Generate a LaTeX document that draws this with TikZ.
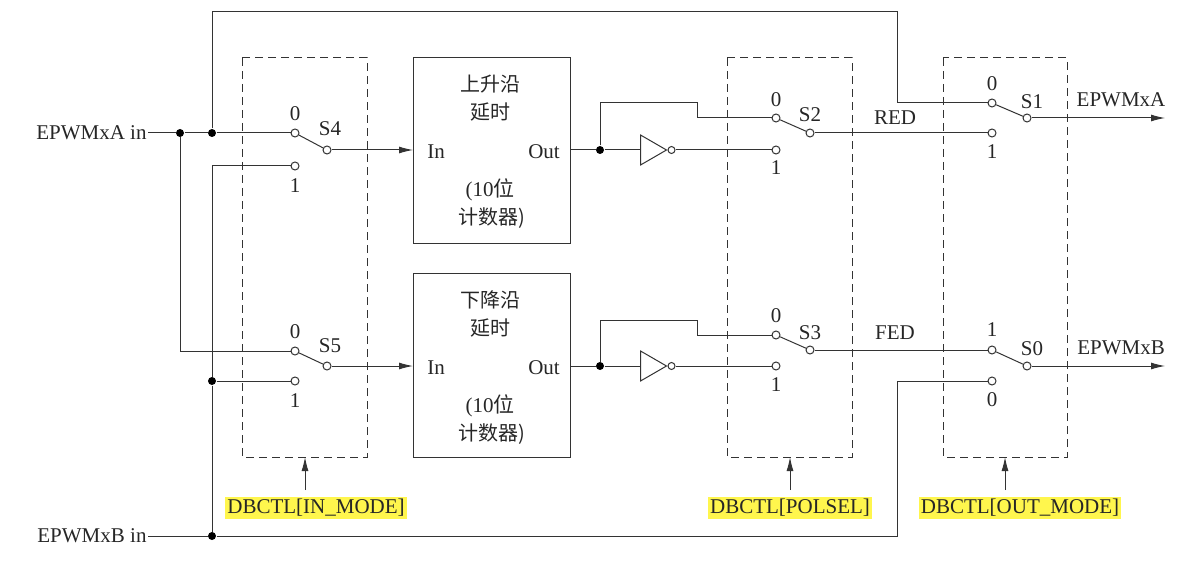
\documentclass[tikz,border=0pt]{standalone}
\usepackage{fontspec}
\setmainfont{Liberation Serif}
\newfontfamily\cjk{Noto Sans CJK SC}
\usetikzlibrary{arrows.meta,shapes.geometric}
\begin{document}
\begin{tikzpicture}[x=1pt,y=-1pt,line width=1pt,
  term/.style={circle,draw,fill=white,inner sep=0pt,minimum size=8pt},
  dot/.style={circle,fill,inner sep=0pt,minimum size=8pt},
  lbl/.style={font=\fontsize{21}{23}\selectfont,inner sep=1pt},
  cjklbl/.style={font=\cjk\fontsize{20}{22}\selectfont,inner sep=1pt},
  dbox/.style={draw,dashed,dash pattern=on 8pt off 5pt},
  blk/.style={draw},
  inv/.style={draw,isosceles triangle,isosceles triangle apex angle=60,inner sep=0pt,minimum height=26pt,minimum width=28pt,anchor=west},
  arr/.style={-{Latex[length=14pt,width=7pt]}},
  hl/.style={lbl,fill=yellow!70,inner sep=2pt}]
\useasboundingbox (0,0) rectangle (1185,564);
\begin{scope}[draw=black!80,text=black!85]
% dashed boxes
\draw[dbox] (242,58) rectangle (367,457);
\draw[dbox] (727,58) rectangle (852,457);
\draw[dbox] (943,58) rectangle (1067,457);
% delay blocks
\draw[blk] (413,58) rectangle (570,243);
\draw[blk] (413,273) rectangle (570,457);
\node[cjklbl] at (490,84) {上升沿};
\node[cjklbl] at (490,112) {延时};
\node[lbl] (in1) at (436,152) {In};
\node[lbl] at (544,152) {Out};
\node[lbl] at (490,190) {(10\cjk 位};
\node[cjklbl] at (492,218) {计数器)};
\node[cjklbl] at (490,300) {下降沿};
\node[cjklbl] at (490,328) {延时};
\node[lbl] at (436,368) {In};
\node[lbl] at (544,368) {Out};
\node[lbl] at (490,406) {(10\cjk 位};
\node[cjklbl] at (492,434) {计数器)};
% coordinates
\coordinate (b1in) at (413,150);
\coordinate (b1out) at (570,150);
\coordinate (b2in) at (413,366);
\coordinate (b2out) at (570,366);
% inputs
\node[lbl,anchor=east] (ina) at (148,133) {EPWMxA in};
\node[lbl,anchor=east] (inb) at (148,536) {EPWMxB in};
\node[dot] (da1) at (180,133) {};
\node[dot] (da2) at (212,133) {};
\node[dot] (db1) at (212,381) {};
\node[dot] (db2) at (212,536) {};
% switches S4, S5
\node[term] (s4a) at (295,133) {};
\node[term] (s4b) at (295,166) {};
\node[term] (s4c) at (327,150) {};
\node[term] (s5a) at (295,351) {};
\node[term] (s5b) at (295,381) {};
\node[term] (s5c) at (327,366) {};
\node[lbl] at (295,114) {0};
\node[lbl] at (295,186) {1};
\node[lbl] at (330,129) {S4};
\node[lbl] at (295,332) {0};
\node[lbl] at (295,401) {1};
\node[lbl] at (330,346) {S5};
\draw (ina) -- (da1) -- (da2) -- (s4a);
\draw (s4a) -- (s4c);
\draw (s5a) -- (s5c);
\draw[arr] (s4c) -- (b1in);
\draw[arr] (s5c) -- (b2in);
\draw (da1) |- (s5a);
\draw (s4b) -| (db1) -- (db2);
\draw (db1) -- (s5b);
% top wire
\coordinate (t1) at (212,12);
\coordinate (t2) at (897,12);
\node[term] (s1a) at (992,103) {};
\node[term] (s1b) at (992,133) {};
\node[term] (s1c) at (1027,118) {};
\draw (da2) -- (t1) -- (t2) |- (s1a);
% bottom wire
\node[term] (s0a) at (992,350) {};
\node[term] (s0b) at (992,381) {};
\node[term] (s0c) at (1027,366) {};
\coordinate (bw) at (897,536);
\draw (inb) -- (db2) -- (bw) |- (s0b);
% upper path after block
\node[dot] (o1) at (600,150) {};
\node[inv] (inv1) at (640,150) {};
\node[circle,draw,inner sep=0pt,minimum size=7pt,anchor=west] (bub1) at (inv1.east) {};
\node[term] (s2a) at (776,118) {};
\node[term] (s2b) at (776,150) {};
\node[term] (s2c) at (810,133) {};
\draw (b1out) -- (o1) -- (inv1.west);
\draw (bub1) -- (s2b);
\draw (o1) -- (600,103) -- (697,103) -- (697,118) -- (s2a);
\draw (s2a) -- (s2c);
\draw (s2c) -- (s1b);
\draw (s1a) -- (s1c);
\node[lbl] at (776,100) {0};
\node[lbl] at (776,168) {1};
\node[lbl] at (810,115) {S2};
\node[lbl] at (895,118) {RED};
\node[lbl] at (992,84) {0};
\node[lbl] at (992,152) {1};
\node[lbl] at (1032,102) {S1};
\coordinate (oa) at (1165,118);
\draw[arr] (s1c) -- (oa);
\node[lbl] at (1121,100) {EPWMxA};
% lower path
\node[dot] (o2) at (600,366) {};
\node[inv] (inv2) at (640,366) {};
\node[circle,draw,inner sep=0pt,minimum size=7pt,anchor=west] (bub2) at (inv2.east) {};
\node[term] (s3a) at (776,335) {};
\node[term] (s3b) at (776,366) {};
\node[term] (s3c) at (810,350) {};
\draw (b2out) -- (o2) -- (inv2.west);
\draw (bub2) -- (s3b);
\draw (o2) -- (600,320) -- (697,320) -- (697,335) -- (s3a);
\draw (s3a) -- (s3c);
\draw (s3c) -- (s0a);
\draw (s0a) -- (s0c);
\node[lbl] at (776,316) {0};
\node[lbl] at (776,385) {1};
\node[lbl] at (810,333) {S3};
\node[lbl] at (895,333) {FED};
\node[lbl] at (992,330) {1};
\node[lbl] at (992,400) {0};
\node[lbl] at (1032,349) {S0};
\coordinate (ob) at (1165,366);
\draw[arr] (s0c) -- (ob);
\node[lbl] at (1121,348) {EPWMxB};
% control labels
\node[hl] (c1) at (316,508) {DBCTL[IN\_MODE]};
\node[hl] (c2) at (790,508) {DBCTL[POLSEL]};
\node[hl] (c3) at (1020,508) {DBCTL[OUT\_MODE]};
\draw[arr] (305,490) -- (305,457);
\draw[arr] (790,490) -- (790,457);
\draw[arr] (1005,490) -- (1005,457);
\end{scope}
\end{tikzpicture}
\end{document}
